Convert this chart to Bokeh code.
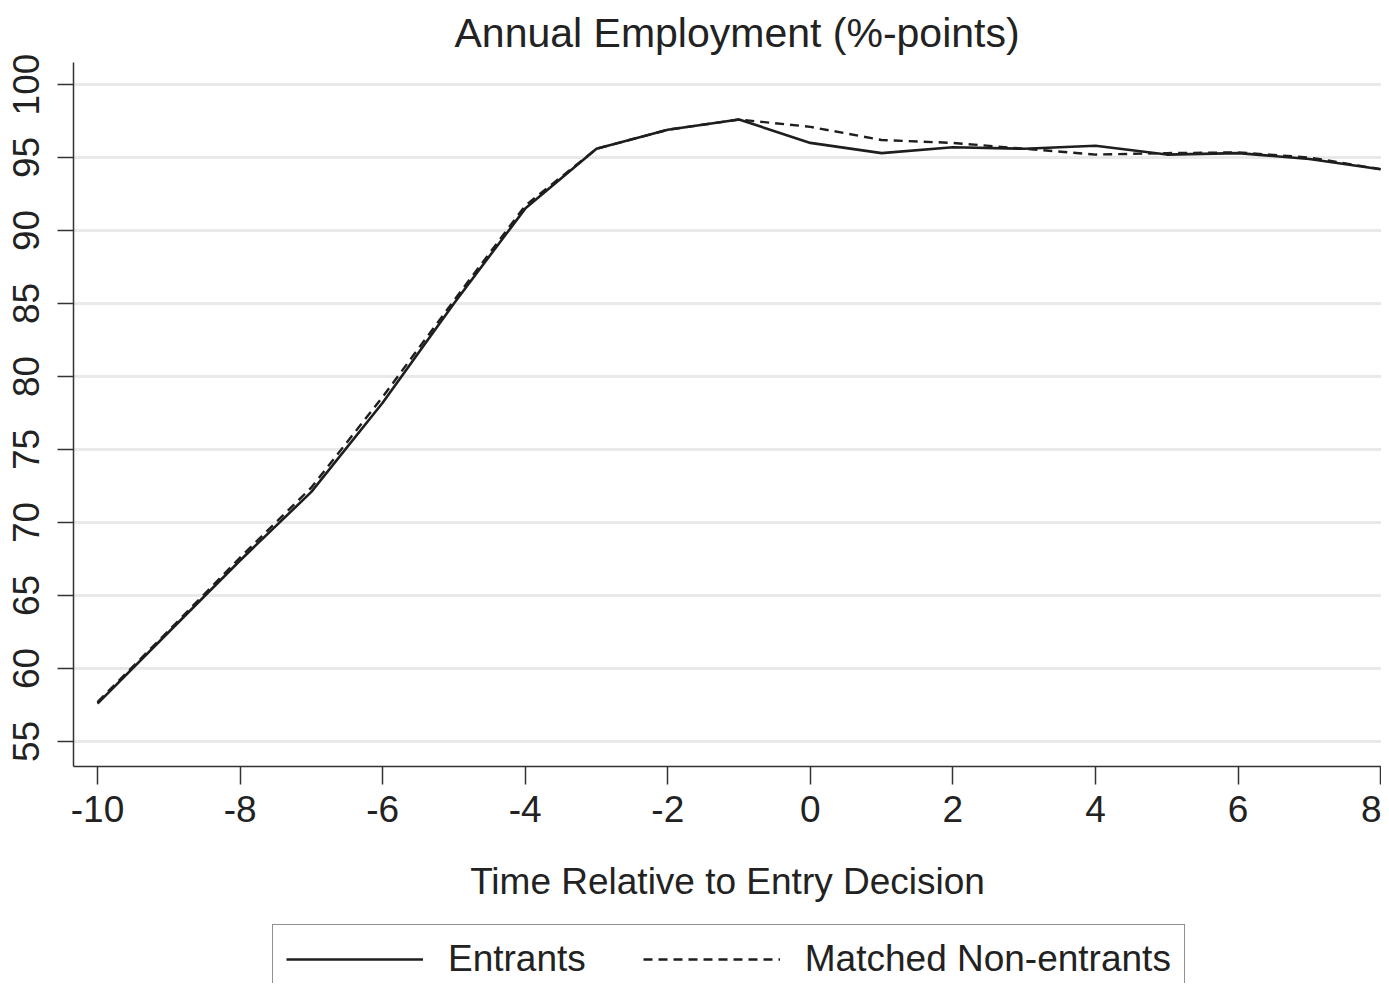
from bokeh.plotting import figure
from bokeh.layouts import column
from bokeh.models import Range1d, Legend, LegendItem, FixedTicker, ColumnDataSource, Title
from bokeh.embed import file_html
from bokeh.resources import INLINE

# ---- data ----
years = list(range(-10, 9))
entrants = [57.6, 62.5, 67.4, 72.1, 78.2, 85.0, 91.5, 95.6, 96.9, 97.6,
            96.0, 95.3, 95.7, 95.6, 95.8, 95.2, 95.3, 94.9, 94.2]
matched = [57.7, 62.6, 67.6, 72.4, 78.6, 85.2, 91.7, 95.6, 96.9, 97.6,
           97.1, 96.2, 96.0, 95.6, 95.2, 95.3, 95.35, 95.0, 94.2]
x_ticks = [-10, -8, -6, -4, -2, 0, 2, 4, 6, 8]
y_ticks = [55, 60, 65, 70, 75, 80, 85, 90, 95, 100]

title_text = "Annual Employment (%-points)"
x_label = "Time Relative to Entry Decision"
series_names = ["Entrants", "Matched Non-entrants"]

FONT = "Liberation Sans"
TXT = "#222222"
LINE = "#1e1e1e"

src = ColumnDataSource(dict(x=years, e=entrants, m=matched))

# ---------------- main chart ----------------
p = figure(width=1381, height=921, output_backend="svg", toolbar_location=None,
           x_range=Range1d(-10.337, 8.013), y_range=Range1d(53.288, 101.507),
           min_border_left=73, min_border_right=0, min_border_top=0,
           min_border_bottom=155)

t = Title(text=title_text, align="left", offset=381, standoff=14,
          text_font=FONT, text_font_size="41px", text_font_style="normal",
          text_color=TXT)
p.add_layout(t, "above")

p.outline_line_color = None
p.background_fill_color = "white"
p.border_fill_color = "white"

p.xgrid.grid_line_color = None
p.ygrid.ticker = FixedTicker(ticks=y_ticks)
p.ygrid.grid_line_color = "#e9e9e9"
p.ygrid.grid_line_width = 3

p.xaxis.ticker = FixedTicker(ticks=x_ticks)
p.yaxis.ticker = FixedTicker(ticks=y_ticks)
p.xaxis.major_label_overrides = {t_: str(t_) for t_ in x_ticks}
p.yaxis.major_label_overrides = {t_: str(t_) for t_ in y_ticks}
for ax in (p.xaxis[0], p.yaxis[0]):
    ax.axis_line_color = "#333333"
    ax.axis_line_width = 1.5
    ax.major_tick_line_color = "#333333"
    ax.major_tick_line_width = 1.5
    ax.minor_tick_line_color = None
    ax.major_tick_in = 0
    ax.major_label_text_font = FONT
    ax.major_label_text_font_size = "37px"
    ax.major_label_text_color = TXT
    ax.axis_label_text_font = FONT
    ax.axis_label_text_font_size = "37px"
    ax.axis_label_text_font_style = "normal"
    ax.axis_label_text_color = TXT

p.xaxis.major_tick_out = 18
p.xaxis.major_label_standoff = 11
p.xaxis.axis_label = x_label
p.xaxis.axis_label_standoff = 36

p.yaxis.major_tick_out = 16
p.yaxis.major_label_standoff = 18
p.yaxis.major_label_orientation = "vertical"

p.line("x", "e", source=src, line_color=LINE, line_width=2.6)
p.line("x", "m", source=src, line_color=LINE, line_width=2.4, line_dash="9 6")

# ---------------- legend strip ----------------
lg = figure(width=1381, height=62, output_backend="svg", toolbar_location=None,
            x_range=Range1d(0, 1), y_range=Range1d(0, 1),
            min_border_left=0, min_border_right=0, min_border_top=0,
            min_border_bottom=0)
lg.axis.visible = False
lg.grid.visible = False
lg.outline_line_color = None
lg.background_fill_color = "white"
lg.border_fill_color = "white"
# same series, drawn outside this strip's ranges: only their legend keys show
k1 = lg.line("x", "e", source=src, line_color=LINE, line_width=2.6)
k2 = lg.line("x", "m", source=src, line_color=LINE, line_width=2.4, line_dash="9 6")

legend = Legend(items=[LegendItem(label=series_names[0], renderers=[k1]),
                       LegendItem(label=series_names[1], renderers=[k2])],
                orientation="horizontal", location=(199, -11))
legend.margin = 0
legend.padding = 13
legend.spacing = 57
legend.glyph_width = 137
legend.glyph_height = 30
legend.label_standoff = 25
legend.label_text_font = FONT
legend.label_text_font_size = "37px"
legend.label_text_color = TXT
legend.border_line_color = "#222222"
legend.border_line_width = 1.5
legend.background_fill_alpha = 1.0
lg.add_layout(legend, "center")

layout = column(p, lg, spacing=0)
open("out.html", "w").write(file_html(layout, INLINE))
